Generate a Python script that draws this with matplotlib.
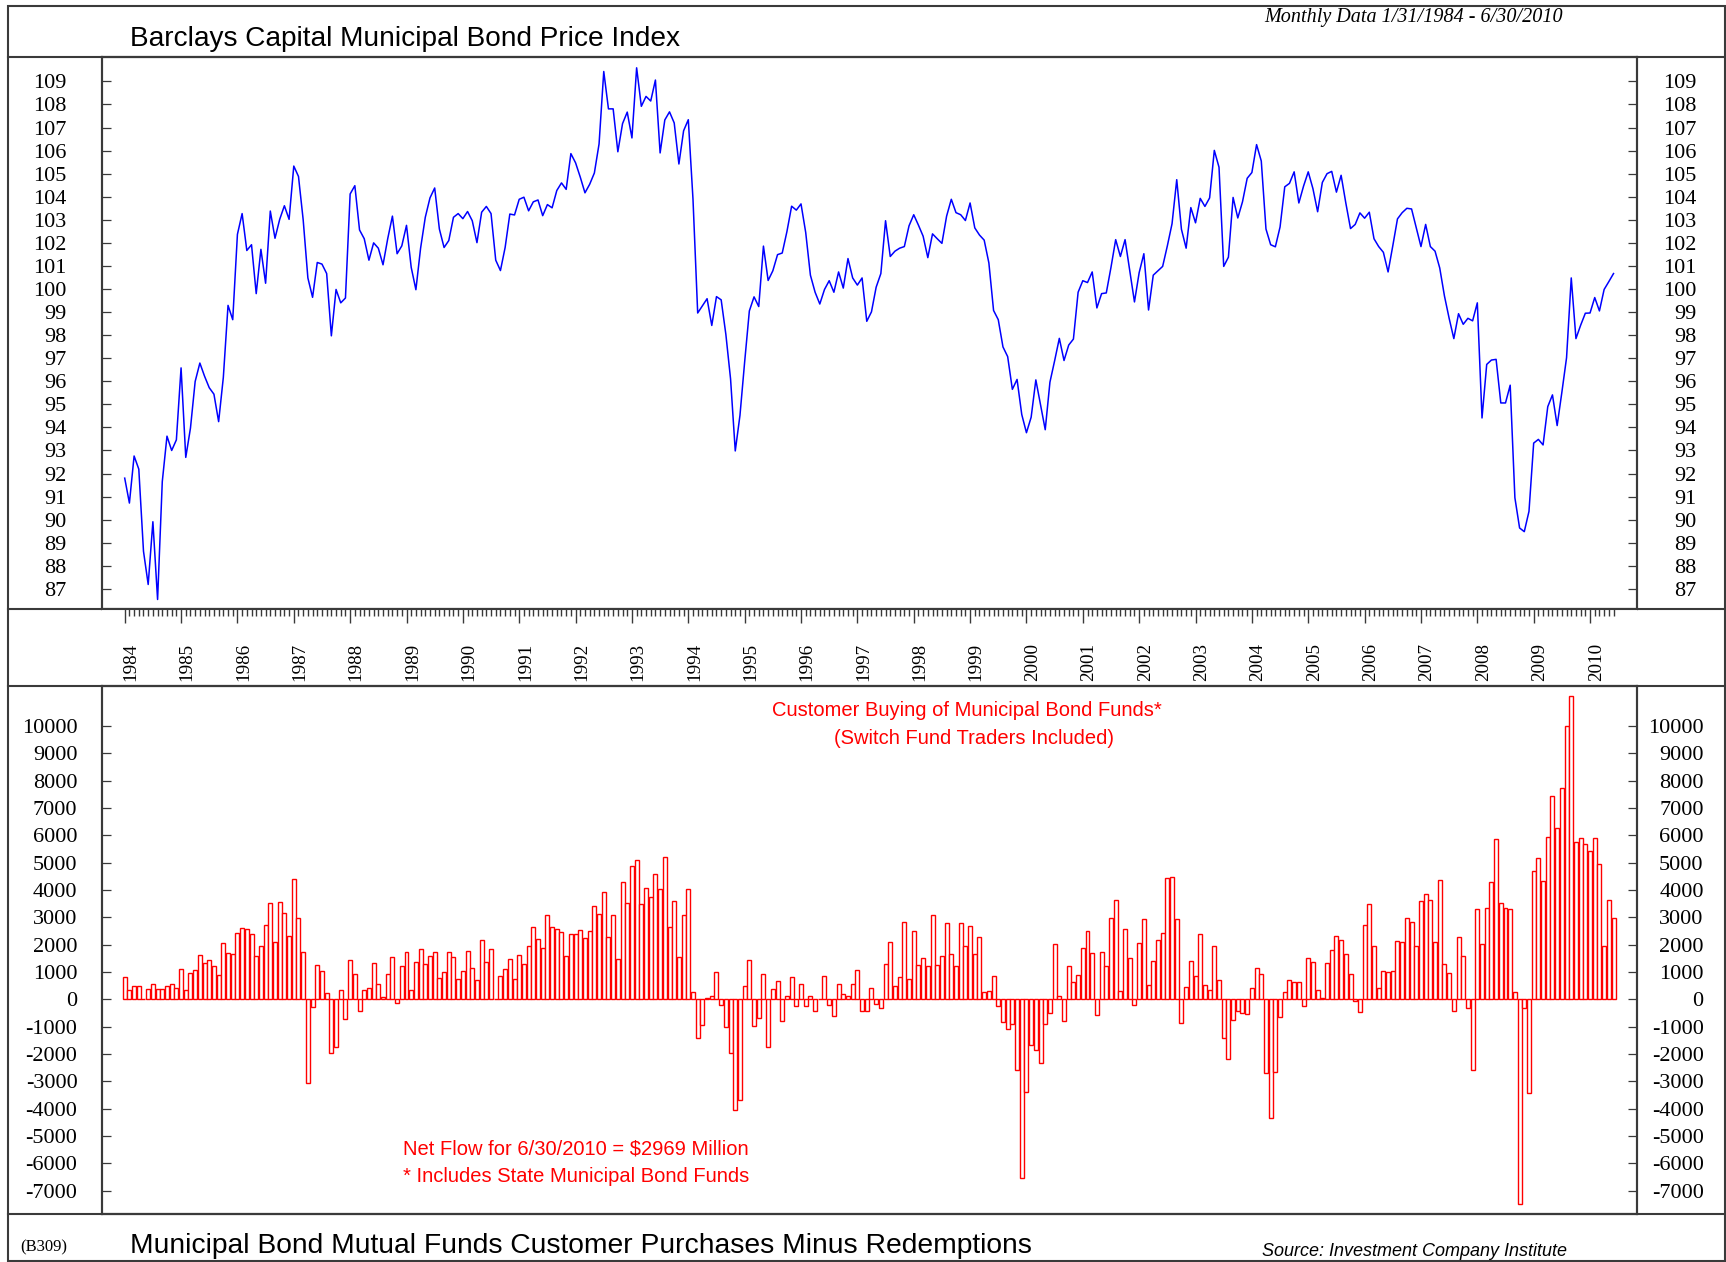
import numpy as np
import matplotlib
matplotlib.use("Agg")
import matplotlib.pyplot as plt
from matplotlib.lines import Line2D
from matplotlib.patches import Rectangle

plt.rcParams['font.family'] = 'Liberation Serif'
plt.rcParams['axes.unicode_minus'] = False

# Barclays Capital Municipal Bond Price Index, monthly 1/1984 - 6/2010
price_1984_1990 = [
    91.8, 90.72, 92.76, 92.19, 88.63, 87.19, 89.91, 86.54, 91.65, 93.62, 93.0, 93.46,
    96.58, 92.70, 93.97, 95.99, 96.79, 96.22, 95.72, 95.44, 94.25, 96.17, 99.29, 98.67,
    102.37, 103.27, 101.67, 101.92, 99.80, 101.72, 100.25, 103.38, 102.20, 103.02, 103.61, 103.02,
    105.33, 104.88, 103.0, 100.48, 99.64, 101.15, 101.08, 100.67, 97.97, 99.98, 99.40, 99.61,
    104.12, 104.48, 102.56, 102.18, 101.25, 102.0, 101.77, 101.05, 102.18, 103.16, 101.53, 101.87,
    102.76, 100.94, 99.97, 101.77, 103.11, 103.95, 104.38, 102.6, 101.8, 102.1, 103.11, 103.27,
    103.05, 103.36, 102.96, 102.01, 103.33, 103.58, 103.27, 101.25, 100.8, 101.80, 103.25, 103.21,
]
price_1991_1997 = [
    103.89, 103.98, 103.39, 103.78, 103.86, 103.18, 103.66, 103.52, 104.27, 104.60, 104.32, 105.87,
    105.47, 104.85, 104.17, 104.54, 105.03, 106.29, 109.43, 107.81, 107.81, 105.95, 107.17, 107.67,
    106.55, 109.59, 107.92, 108.35, 108.15, 109.06, 105.90, 107.33, 107.68, 107.20, 105.42, 106.86,
    107.34, 103.89, 98.96, 99.27, 99.58, 98.42, 99.67, 99.53, 98.03, 96.10, 92.98, 94.52,
    96.84, 99.05, 99.66, 99.24, 101.86, 100.37, 100.79, 101.49, 101.56, 102.49, 103.59, 103.42,
    103.69, 102.45, 100.60, 99.86, 99.35, 99.98, 100.36, 99.86, 100.74, 100.04, 101.32, 100.48,
    100.17, 100.48, 98.60, 99.01, 100.08, 100.67, 102.96, 101.41, 101.64, 101.77, 101.84, 102.74,
]
price_1998_2004 = [
    103.22, 102.77, 102.29, 101.36, 102.39, 102.18, 101.98, 103.16, 103.89, 103.31, 103.22, 102.97,
    103.73, 102.65, 102.34, 102.12, 101.13, 99.07, 98.67, 97.49, 97.07, 95.65, 96.08, 94.56,
    93.77, 94.44, 96.06, 94.98, 93.90, 95.96, 96.89, 97.86, 96.90, 97.57, 97.83, 99.86,
    100.36, 100.28, 100.74, 99.18, 99.80, 99.83, 100.94, 102.14, 101.41, 102.14, 100.79, 99.44,
    100.71, 101.53, 99.09, 100.60, 100.79, 100.98, 101.87, 102.83, 104.74, 102.59, 101.77, 103.53,
    102.87, 103.93, 103.58, 103.95, 106.01, 105.28, 100.98, 101.38, 103.97, 103.08, 103.78, 104.80,
    105.05, 106.26, 105.55, 102.60, 101.92, 101.83, 102.69, 104.43, 104.58, 105.08, 103.73, 104.46,
]
price_2005_2010 = [
    105.08, 104.35, 103.35, 104.62, 105.00, 105.10, 104.20, 104.93, 103.73, 102.62, 102.80, 103.30,
    103.07, 103.33, 102.18, 101.84, 101.59, 100.74, 101.87, 103.04, 103.31, 103.50, 103.47, 102.65,
    101.84, 102.80, 101.84, 101.64, 100.91, 99.70, 98.73, 97.85, 98.93, 98.47, 98.73, 98.62,
    99.40, 94.41, 96.73, 96.92, 96.95, 95.06, 95.06, 95.83, 90.95, 89.64, 89.48, 90.36,
    93.32, 93.48, 93.24, 94.90, 95.41, 94.08, 95.52, 97.02, 100.48, 97.85, 98.43, 98.95,
    98.96, 99.63, 99.05, 99.98, 100.32, 100.67,
]

# Municipal bond fund net flows ($ million), monthly 1/1984 - 6/2010
flow_1984_1990 = [
    803, 358, 507, 482, 30, 371, 556, 396, 371, 507, 581, 408,
    1112, 346, 952, 1088, 1619, 1323, 1434, 1211, 902, 2077, 1706, 1656,
    2410, 2620, 2559, 2386, 1595, 1953, 2707, 3510, 2114, 3548, 3177, 2324,
    4388, 2991, 1743, -3053, -284, 1273, 1051, 247, -1978, -1743, 334, -717,
    1434, 915, -433, 358, 420, 1347, 556, 74, 927, 1545, -148, 1236,
    1718, 346, 1384, 1842, 1310, 1570, 1731, 779, 989, 1743, 1545, 729,
    1026, 1755, 1150, 717, 2176, 1372, 1829, 20, 865, 1112, 1459, 754,
]
flow_1991_1997 = [
    1632, 1298, 1941, 2658, 2225, 1866, 3078, 2658, 2559, 2447, 1570, 2386,
    2373, 2534, 2237, 2497, 3412, 3140, 3943, 2274, 3078, 1459, 4302, 3523,
    4895, 5080, 3473, 4079, 3758, 4574, 4030, 5192, 2633, 3609, 1557, 3078,
    4030, 260, -1409, -939, 37, 111, 1014, -222, -1026, -1953, -4030, -3684,
    507, 1434, -964, -692, 915, -1755, 371, 667, -779, 111, 828, -247,
    569, -247, 111, -408, 25, 853, -222, -593, 581, 198, 111, 581,
    1088, -408, -433, 408, -170, -321, 1298, 2101, 482, 803, 2818, 729,
]
flow_1998_2004 = [
    2485, 1261, 1520, 1211, 3103, 1273, 1582, 2781, 1669, 1224, 2794, 1965,
    2695, 1669, 2287, 260, 321, 853, -247, -816, -1075, -890, -2596, -6539,
    -3387, -1681, -1866, -2311, -915, -507, 2027, 124, -803, 1211, 630, 878,
    1879, 2509, 1693, -556, 1743, 1211, 2967, 3634, 309, 2571, 1496, -222,
    2052, 2930, 519, 1422, 2176, 2435, 4438, 4462, 2954, -853, 470, 1409,
    865, 2386, 544, 334, 1953, 717, -1397, -2163, -754, -408, -507, -544,
    420, 1150, 915, -2707, -4351, -2658, -655, 284, 717, 643, 618, -247,
]
flow_2005_2010 = [
    1496, 1360, 346, 62, 1347, 1817, 2336, 2176, 1669, 915, -62, -445,
    2732, 3498, 1941, 433, 1038, 989, 1038, 2151, 2101, 2979, 2843, 1965,
    3609, 3869, 3634, 2114, 4363, 1298, 952, -408, 2287, 1570, -309, -2596,
    3288, 2040, 3350, 4289, 5859, 3535, 3350, 3288, 284, -7478, -321, -3436,
    4697, 5167, 4314, 5946, 7429, 6279, 7713, 9988, 11075, 5773, 5909, 5698,
    5414, 5909, 4944, 1965, 3646, 2969,
]

years = list(range(1984, 2011))
price_ticks = list(range(87, 110))
flow_ticks = list(range(-7000, 10001, 1000))

price = np.array(price_1984_1990 + price_1991_1997 + price_1998_2004 + price_2005_2010)
flow = np.array(flow_1984_1990 + flow_1991_1997 + flow_1998_2004 + flow_2005_2010)
months = np.arange(len(price))

W, H = 1726, 1262
fig = plt.figure(figsize=(W / 100, H / 100), dpi=100)
fx = lambda px: px / W
fy = lambda py: 1 - py / H

frame = '#3a3a3a'
sans = 'Liberation Sans'
x_left, x_right = 102.4, 1637
ax_l, ax_w = fx(x_left), fx(x_right) - fx(x_left)
xlim = (-4.75, 322.0)


def style_axis(ax):
    for s in ax.spines.values():
        s.set_color(frame)
        s.set_linewidth(1.5)


# upper panel: price index
ax1 = fig.add_axes([ax_l, fy(608.7), ax_w, fy(57.2) - fy(608.7)])
ax1.plot(months, price, color='#0000ff', lw=1.1)
ax1.set_xlim(xlim)
ax1.set_ylim(86.14, 110.05)
ax1.set_xticks([])
ax1.set_yticks(price_ticks)
ax1.tick_params(axis='y', direction='in', length=6.5, width=0.9, color=frame, labelsize=16, pad=26)
style_axis(ax1)
ax1r = ax1.twinx()
ax1r.set_ylim(86.14, 110.05)
ax1r.set_yticks(price_ticks)
ax1r.tick_params(axis='y', direction='in', length=6.5, width=0.9, color=frame, labelsize=16, pad=42.5)
plt.setp(ax1r.get_yticklabels(), ha='right')
style_axis(ax1r)

# year band
axb = fig.add_axes([ax_l, fy(685.8), ax_w, fy(608.7) - fy(685.8)])
axb.set_xlim(xlim)
axb.set_ylim(0, 1)
axb.set_yticks([])
for s in axb.spines.values():
    s.set_visible(False)
axb.xaxis.set_ticks_position('top')
axb.set_xticks([(y - 1984) * 12 for y in years])
axb.set_xticks(months, minor=True)
axb.tick_params(axis='x', which='major', direction='in', length=10, width=1.0, color=frame,
                labeltop=False, labelbottom=False)
axb.tick_params(axis='x', which='minor', direction='in', length=4.7, width=1.0, color=frame)
for y in years:
    axb.text((y - 1984) * 12 + 1.3, 0.062, str(y), rotation=90, ha='center', va='bottom', fontsize=13.7)

# lower panel: net flows
ax2 = fig.add_axes([ax_l, fy(1214.2), ax_w, fy(685.8) - fy(1214.2)])
ax2.bar(months, flow, width=0.85, facecolor='white', edgecolor='red', linewidth=1.0)
ax2.set_xlim(xlim)
ax2.set_ylim(-7854, 11466)
ax2.set_xticks([])
ax2.set_yticks(flow_ticks)
ax2.set_yticklabels([str(v) for v in flow_ticks])
ax2.tick_params(axis='y', direction='in', length=6.5, width=0.9, color=frame, labelsize=16, pad=18)
style_axis(ax2)
ax2r = ax2.twinx()
ax2r.set_ylim(-7854, 11466)
ax2r.set_yticks(flow_ticks)
ax2r.set_yticklabels([str(v) for v in flow_ticks])
ax2r.tick_params(axis='y', direction='in', length=6.5, width=0.9, color=frame, labelsize=16, pad=48)
plt.setp(ax2r.get_yticklabels(), ha='right')
style_axis(ax2r)

# frame lines
fig.add_artist(Rectangle((fx(8), fy(1261)), fx(1725) - fx(8), fy(5.5) - fy(1261), fill=False,
                         transform=fig.transFigure, ec=frame, lw=1.5))
for yy in [57.2, 608.7, 685.8, 1214.2]:
    fig.add_artist(Line2D([fx(8), fx(1725)], [fy(yy), fy(yy)], transform=fig.transFigure, color=frame, lw=1.5))

# texts
fig.text(fx(130), fy(38.5), 'Barclays Capital Municipal Bond Price Index', family=sans, fontsize=20.2, va='center')
fig.text(fx(1264), fy(17.6), 'Monthly Data 1/31/1984 - 6/30/2010', style='italic', fontsize=14.5, va='center')
fig.text(fx(967), fy(710.7), 'Customer Buying of Municipal Bond Funds*', family=sans, fontsize=14.5,
         color='red', ha='center', va='center')
fig.text(fx(973.7), fy(738.4), '(Switch Fund Traders Included)', family=sans, fontsize=14.5,
         color='red', ha='center', va='center')
fig.text(fx(402.7), fy(1149), 'Net Flow for 6/30/2010 = $2969 Million', family=sans, fontsize=14.5,
         color='red', va='center')
fig.text(fx(402.7), fy(1176), '* Includes State Municipal Bond Funds', family=sans, fontsize=14.5,
         color='red', va='center')
fig.text(fx(20), fy(1247), '(B309)', fontsize=12, va='center')
fig.text(fx(130), fy(1246), 'Municipal Bond Mutual Funds Customer Purchases Minus Redemptions', family=sans,
         fontsize=20.3, va='center')
fig.text(fx(1262), fy(1251.6), 'Source: Investment Company Institute', family=sans, style='italic',
         fontsize=13, va='center')

fig.savefig('out.png', dpi=100)
